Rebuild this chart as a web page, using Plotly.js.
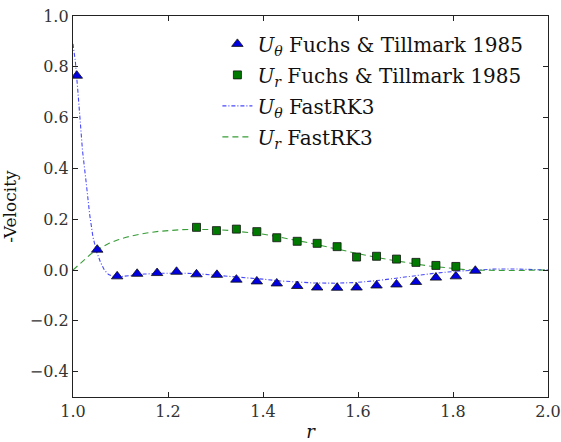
<!DOCTYPE html>
<html>
<head>
<meta charset="utf-8">
<script src="https://cdn.plot.ly/plotly-3.0.1.min.js"></script>
<style>html,body{margin:0;padding:0;background:#fff;}#chart{width:561px;height:442px;}</style>
</head>
<body>
<div id="chart"></div>
<script>
// Fuchs & Tillmark 1985 data
const expThetaR = [1.008, 1.051, 1.093, 1.135, 1.177, 1.218, 1.260, 1.303, 1.344, 1.387, 1.429, 1.472, 1.514, 1.556, 1.597, 1.639, 1.681, 1.722, 1.764, 1.806, 1.847];
const expThetaV = [0.765, 0.080, -0.025, -0.015, -0.012, -0.007, -0.017, -0.019, -0.038, -0.045, -0.053, -0.063, -0.069, -0.070, -0.069, -0.061, -0.057, -0.047, -0.030, -0.025, -0.003];
const expRadR = [1.260, 1.302, 1.344, 1.387, 1.429, 1.472, 1.514, 1.556, 1.597, 1.639, 1.681, 1.722, 1.764, 1.806];
const expRadV = [0.168, 0.155, 0.161, 0.151, 0.127, 0.113, 0.105, 0.092, 0.051, 0.054, 0.043, 0.030, 0.018, 0.014];

// FastRK3 simulation curves
const rkThetaR = [1.000, 1.005, 1.010, 1.015, 1.020, 1.028, 1.035, 1.042, 1.050, 1.058, 1.066, 1.075, 1.085, 1.095, 1.11, 1.13, 1.15, 1.18, 1.21, 1.24, 1.27, 1.30, 1.35, 1.40, 1.435, 1.47, 1.505, 1.555, 1.597, 1.639, 1.681, 1.723, 1.765, 1.807, 1.849, 1.89, 1.93, 1.96, 2.0];
const rkThetaV = [0.89, 0.82, 0.71, 0.57, 0.47, 0.34, 0.22, 0.13, 0.07, 0.03, 0.00, -0.018, -0.026, -0.027, -0.024, -0.020, -0.016, -0.013, -0.012, -0.013, -0.016, -0.020, -0.028, -0.036, -0.043, -0.048, -0.051, -0.052, -0.049, -0.042, -0.032, -0.022, -0.012, -0.005, 0.001, 0.004, 0.004, 0.002, 0.0];
const rkRadR = [1.000, 1.012, 1.025, 1.037, 1.049, 1.063, 1.077, 1.095, 1.112, 1.133, 1.155, 1.18, 1.204, 1.23, 1.253, 1.278, 1.302, 1.327, 1.351, 1.372, 1.393, 1.414, 1.435, 1.463, 1.491, 1.52, 1.548, 1.576, 1.611, 1.646, 1.68, 1.716, 1.75, 1.786, 1.807, 1.828, 1.86, 1.891, 1.93, 1.96, 2.0];
const rkRadV = [0.000, 0.020, 0.042, 0.062, 0.078, 0.093, 0.106, 0.119, 0.129, 0.138, 0.146, 0.152, 0.156, 0.159, 0.160, 0.160, 0.159, 0.156, 0.152, 0.148, 0.143, 0.137, 0.130, 0.120, 0.109, 0.097, 0.085, 0.073, 0.060, 0.047, 0.035, 0.025, 0.016, 0.008, 0.004, 0.001, -0.001, -0.002, -0.002, -0.001, 0.0];

const xTicks = [1.0, 1.2, 1.4, 1.6, 1.8, 2.0];
const yTicks = [-0.4, -0.2, 0.0, 0.2, 0.4, 0.6, 0.8, 1.0];

const names = [
  '<i>U</i><sub><i>θ</i></sub> Fuchs &amp; Tillmark 1985',
  '<i>U</i><sub><i>r</i></sub> Fuchs &amp; Tillmark 1985',
  '<i>U</i><sub><i>θ</i></sub> FastRK3',
  '<i>U</i><sub><i>r</i></sub> FastRK3'
];

const SERIF = 'DejaVu Serif';
const BLUE_LINE = 'rgba(40,40,255,0.85)';
const GREEN_LINE = 'rgba(20,140,20,0.85)';

const traces = [
  {x: rkThetaR, y: rkThetaV, mode: 'lines', name: names[2], showlegend: false, legendgroup: 'c',
   line: {color: BLUE_LINE, width: 1.1, dash: '4px,2px,1px,2px'}},
  {x: rkRadR, y: rkRadV, mode: 'lines', name: names[3], showlegend: false, legendgroup: 'd',
   line: {color: GREEN_LINE, width: 1.1, dash: '6px,4px'}},
  {x: expThetaR, y: expThetaV, mode: 'markers', name: names[0], legendgroup: 'a',
   marker: {symbol: 'triangle-up', size: 10, color: '#0000e0', line: {color: '#111', width: 0.8}}},
  {x: expRadR, y: expRadV, mode: 'markers', name: names[1], legendgroup: 'b',
   marker: {symbol: 'square', size: 8, color: '#007a00', line: {color: '#111', width: 0.8}}},
  {x: [null], y: [null], mode: 'lines', name: names[2], legendgroup: 'c',
   line: {color: BLUE_LINE, width: 1.1, dash: '4px,2px,1px,2px'}},
  {x: [null], y: [null], mode: 'lines', name: names[3], legendgroup: 'd',
   line: {color: GREEN_LINE, width: 1.1, dash: '6px,4px'}}
];

const axisCommon = {
  showline: true, mirror: 'allticks', linecolor: '#222', linewidth: 1.2,
  ticks: 'inside', ticklen: 5, tickwidth: 1, tickcolor: '#222',
  showgrid: false, zeroline: false,
  tickfont: {family: SERIF, size: 16, color: '#333'}
};

const layout = {
  width: 561, height: 442,
  margin: {l: 73, r: 13, t: 16, b: 45},
  paper_bgcolor: '#fff', plot_bgcolor: '#fff',
  font: {family: SERIF},
  showlegend: true,
  legend: {x: 0.304, y: 0.978, xanchor: 'left', yanchor: 'top',
    bgcolor: 'rgba(0,0,0,0)', borderwidth: 0, tracegroupgap: 2,
    font: {family: SERIF, size: 20, color: '#111'},
    itemsizing: 'trace'},
  xaxis: Object.assign({}, axisCommon, {
    range: [1.0, 2.0], tickvals: xTicks, tickformat: '.1f',
    title: {text: '<i>r</i>', font: {family: SERIF, size: 18, color: '#111'}, standoff: 6}
  }),
  yaxis: Object.assign({}, axisCommon, {
    range: [-0.5, 1.0], tickvals: yTicks, tickformat: '.1f',
    title: {text: '-Velocity', font: {family: SERIF, size: 17, color: '#111'}, standoff: 8}
  })
};

Plotly.newPlot('chart', traces, layout, {staticPlot: true, displayModeBar: false});
</script>
</body>
</html>
